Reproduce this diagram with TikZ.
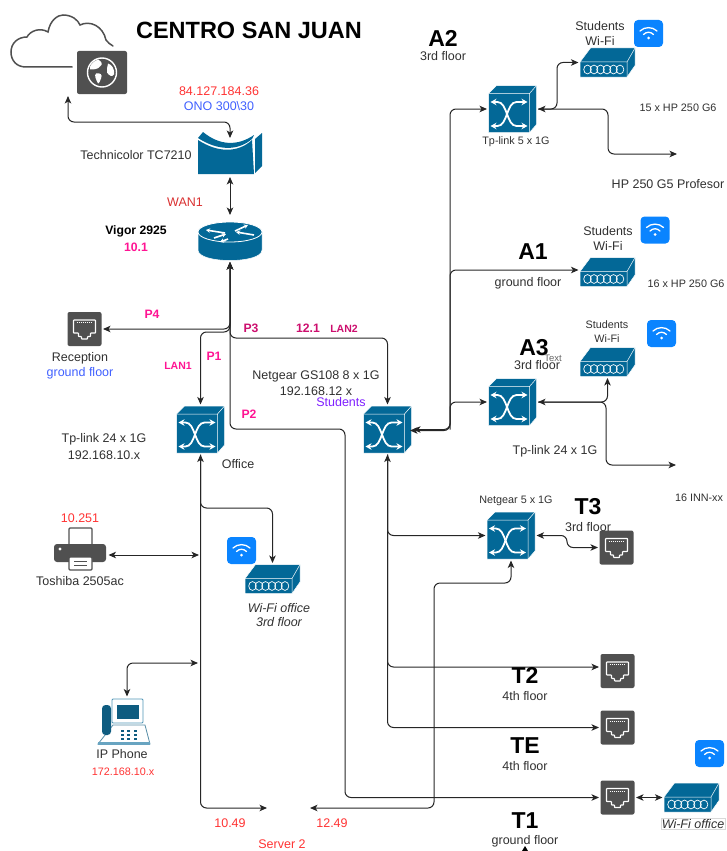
\documentclass[tikz,border=0pt]{standalone}
\usepackage{fontspec}
\setmainfont{Liberation Sans}
\usetikzlibrary{arrows.meta,calc,positioning}
\definecolor{devblue}{HTML}{036897}
\definecolor{devdark}{HTML}{0E5C80}
\definecolor{icongrey}{HTML}{505050}
\definecolor{wifiblue}{HTML}{0A84FF}
\definecolor{txtgrey}{HTML}{303030}
\definecolor{txtred}{HTML}{FF3333}
\definecolor{txtdred}{HTML}{D93030}
\definecolor{txtpink}{HTML}{FF1493}
\definecolor{txtrose}{HTML}{CC0F6E}
\definecolor{txtblue}{HTML}{4060FF}
\definecolor{txtviolet}{HTML}{7F20FF}
\tikzset{
lbl/.style={inner sep=0,outer sep=0,align=center,text=txtgrey,font=\fontsize{12.5}{14}\selectfont},
lblsm/.style={lbl,font=\fontsize{10.8}{12}\selectfont},
head/.style={lbl,text=black,font=\fontsize{23}{24}\selectfont\bfseries},
tag/.style={lbl,font=\fontsize{12.2}{14}\selectfont\bfseries},
link/.style={draw=black!85,line width=1pt,rounded corners=6pt,>={Stealth[length=7.5pt,width=6.5pt,inset=2pt]}},
dev/.style={inner sep=0,outer sep=1.5pt,minimum width=#1},
swbox/.style={dev=48pt,minimum height=47pt},
apbox/.style={dev=55pt,minimum height=29pt},
rjbox/.style={dev=34pt,minimum height=34pt},
swicon/.pic={
\path[fill=devblue,draw=white,line width=0.5pt,line join=round] (-24,-15.5) -- (-16,-23.5) -- (24,-23.5) -- (24,15.5) -- (17,23.5) -- (-24,23.5) -- cycle;
\draw[white,line width=0.5pt] (-24,-15.5) -- (17,-15.5) -- (24,-23.5) (17,-15.5) -- (17,23.5);
\draw[white,line width=1.8pt,<->,>={Stealth[length=6pt,width=6.5pt]}] (-22,-7) -- (-15,-7) .. controls (-5,-7) and (-6,17) .. (4,17) -- (15,17);
\draw[white,line width=1.8pt,<->,>={Stealth[length=6pt,width=6.5pt]}] (-22,17) -- (-15,17) .. controls (-5,17) and (-6,-7) .. (4,-7) -- (15,-7);
},
apicon/.pic={
\path[fill=devblue,draw=white,line width=0.5pt,line join=round] (-27.5,-0.5) -- (-17,-14.5) -- (27.5,-14.5) -- (27.5,3) -- (19.5,14.5) -- (-27.5,14.5) -- cycle;
\draw[white,line width=0.5pt] (-27.5,-0.5) -- (19.5,-0.5) -- (27.5,-14.5) (19.5,-0.5) -- (19.5,14.5);
\foreach \cx in {-20,-13.5,-7,-0.5,6,12.5} \draw[white,line width=0.7pt] (\cx,7) ellipse (3.8 and 4.4);
},
rjicon/.pic={
\path[fill=icongrey,rounded corners=2pt] (-17,-17) rectangle (17,17);
\draw[white,line width=1.2pt,line join=round,rounded corners=0.6pt] (-11,-9) -- (11,-9) -- (11,4) -- (6,4) -- (6,7.5) -- (3,7.5) -- (3,10) -- (-3,10) -- (-3,7.5) -- (-6,7.5) -- (-6,4) -- (-11,4) -- cycle;
\draw[white,line width=1pt,dash pattern=on 1pt off 1pt] (-8,-6.2) -- (8,-6.2);
},
wifiicon/.pic={
\path[fill=wifiblue,rounded corners=4pt] (-14.5,-13.5) rectangle (14.5,13.5);
\draw[white,line width=1.3pt,line cap=round] (-8.5,-2.5) .. controls (-4,-7) and (4,-7) .. (8.5,-2.5);
\draw[white,line width=1.3pt,line cap=round] (-5,1) .. controls (-2,-2) and (2,-2) .. (5,1);
\fill[white] (0,4.5) circle (1.5);
},
routericon/.pic={
\path[fill=devblue,draw=white,line width=0.5pt] (-32,-9) -- (-32,9) .. controls (-32,23) and (32,23) .. (32,9) -- (32,-9) -- cycle;
\path[fill=devblue,draw=white,line width=0.8pt] (0,-9) ellipse (32 and 10);
\draw[white,line width=1.6pt,->,>={Stealth[length=4pt,width=4.5pt]}] (-5,-8) -- (-24,-11);
\draw[white,line width=1.6pt,->,>={Stealth[length=4pt,width=4.5pt]}] (-16,-3) -- (-4,-7);
\draw[white,line width=1.6pt,->,>={Stealth[length=4pt,width=4.5pt]}] (5,-10) -- (18,-16);
\draw[white,line width=1.6pt,->,>={Stealth[length=4pt,width=4.5pt]}] (24,-6) -- (6,-9);
\draw[white,line width=1.6pt,->,>={Stealth[length=4pt,width=4.5pt]}] (-2,-2) -- (-10,1);
},
modemicon/.pic={
\path[fill=devblue] (-32,-13) .. controls (-12,0) and (8,0) .. (22,-13) -- (24,21) -- (-32,21) -- cycle;
\path[fill=devblue] (-27,-21) .. controls (-10,-7) and (8,-7) .. (24,-18) -- (22,-14) .. controls (8,-2) and (-12,-2) .. (-32,-15) -- cycle;
\path[fill=devblue] (25,-14) -- (32,-20) -- (32,13) -- (25,20) -- cycle;
},
printicon/.pic={
\draw[icongrey,fill=white,line width=1.3pt,rounded corners=1pt] (-11,-21) rectangle (12,-3);
\path[fill=icongrey,rounded corners=3pt] (-26,-5) rectangle (26,13);
\fill[white] (-20,0) circle (1.6);
\draw[icongrey,fill=white,line width=1.3pt,rounded corners=1pt] (-11,8) rectangle (12,21);
\draw[icongrey,line width=0.8pt] (-6,12.5) -- (7,12.5) (-6,16) -- (7,16);
},
phoneicon/.pic={
\draw[devdark!70,fill=white,line width=0.8pt] (-25,22) -- (27,22) -- (22,3) -- (-10,3) -- cycle;
\path[fill=devblue!60] (-25,20) -- (27,20) -- (27,23) -- (-25,23) -- cycle;
\path[fill=devdark,rounded corners=3.5pt] (-21,-17) rectangle (-12,13);
\draw[devblue!70,fill=white,line width=0.8pt,rounded corners=1pt] (-11,-23) rectangle (20,1);
\path[fill=devdark] (-6,-17) rectangle (16,-3);
\foreach \cx in {-1,5,12} \foreach \cy in {9,13,17} \fill[devdark] (\cx-1.5,\cy-1) rectangle (\cx+1.5,\cy+1);
},
netbox/.pic={
\path[fill=icongrey,rounded corners=2pt] (-25,-21.5) rectangle (25,21.5);
\draw[white,line width=1.4pt] (0,0) circle (14.5);
\path[fill=white] (-4,-13) .. controls (0,-11) and (1,-8) .. (-2,-6) .. controls (-4,-3) and (-9,-3) .. (-12,-3) .. controls (-13,-7) and (-9,-11) .. (-4,-13) -- cycle;
\path[fill=white] (-6,1) .. controls (-2,0) and (1,2) .. (-1,6) .. controls (-2,9) and (-3,11) .. (-4,11) .. controls (-6,7) and (-8,3) .. (-6,1) -- cycle;
\path[fill=white] (6,-9) .. controls (10,-8) and (13,-3) .. (12,2) .. controls (10,5) and (7,3) .. (5,0) .. controls (5,-3) and (5,-6) .. (6,-9) -- cycle;
},
}
\begin{document}
\begin{tikzpicture}[x=1pt,y=-1pt]
\useasboundingbox (0,0) rectangle (726,851);
%cloud
\draw[icongrey,line width=1.5pt,line cap=round] (72,67) -- (26,67) .. controls (16,67) and (11,60) .. (11,52) .. controls (11,43) and (18,37) .. (27,37) .. controls (30,31) and (40,27) .. (48,32) .. controls (50,20) and (58,15) .. (63,15) .. controls (72,15) and (78,20) .. (80,25) .. controls (90,20) and (103,26) .. (106,40) .. controls (108,43) and (110,44) .. (113,46);
\pic at (102,72.5) {netbox};
\node[dev=50pt,minimum height=43pt] (netOut) at (102,72.5) {};
%devices
\pic at (230,153) {modemicon};
\node[dev=64pt,minimum height=36pt] (modemTC) at (230,157.5) {};
\pic at (230,241) {routericon};
\node[dev=64pt,minimum height=44pt] (routerV) at (230,238.5) {};
\pic at (200.5,429.5) {swicon};
\node[swbox] (swOffice) at (200.5,429.5) {};
\pic at (387.5,429.5) {swicon};
\node[swbox] (swStudents) at (387.5,429.5) {};
\pic at (512.5,109) {swicon};
\node[swbox] (swAtwo) at (512.5,109) {};
\pic at (512.5,402) {swicon};
\node[swbox] (swAthree) at (512.5,402) {};
\pic at (511,535.5) {swicon};
\node[swbox] (swNet) at (511,535.5) {};
\pic at (607.5,62.5) {apicon};
\node[apbox] (apAtwo) at (607.5,62.5) {};
\pic at (607.5,272) {apicon};
\node[apbox] (apAone) at (607.5,272) {};
\pic at (607.5,362) {apicon};
\node[apbox] (apAthree) at (607.5,362) {};
\pic at (272.5,579) {apicon};
\node[apbox] (apOffice) at (272.5,579) {};
\pic at (691.5,797.5) {apicon};
\node[apbox] (apTone) at (691.5,797.5) {};
\pic at (84.5,329) {rjicon};
\node[rjbox] (rjRecep) at (84.5,329) {};
\pic at (616.5,547.5) {rjicon};
\node[rjbox] (rjTthree) at (616.5,547.5) {};
\pic at (617.5,671) {rjicon};
\node[rjbox] (rjTtwo) at (617.5,671) {};
\pic at (617.5,727.5) {rjicon};
\node[rjbox] (rjTE) at (617.5,727.5) {};
\pic at (617.5,797.5) {rjicon};
\node[rjbox] (rjTone) at (617.5,797.5) {};
\pic at (648.5,33.5) {wifiicon};
\pic at (655,230) {wifiicon};
\pic at (661.5,333.5) {wifiicon};
\pic at (241.5,550.5) {wifiicon};
\pic at (709.5,753.5) {wifiicon};
\pic at (80,549) {printicon};
\node[dev=54pt,minimum height=30pt] (printTS) at (80,555) {};
\pic at (123,722) {phoneicon};
\node[dev=50pt,minimum height=48pt] (phoneIP) at (127,722) {};
%free ends and bends
\coordinate (cCloud) at (68,96);
\coordinate (kCloud) at (68,122);
\coordinate (jnRouter) at (230,332);
\coordinate (kPthree) at (230,338);
\coordinate (kPtwoA) at (230,429);
\coordinate (kPtwoB) at (345,797.5);
\coordinate (jnOffice) at (200.5,508);
\coordinate (cPrint) at (199,555);
\coordinate (cPhone) at (198,663);
\coordinate (cSrvA) at (267,808);
\coordinate (cSrvB) at (310,808);
\coordinate (kNet) at (434,583);
\coordinate (jnTrunk) at (450,429.5);
\coordinate (kWifiA) at (557,109);
\coordinate (kProf) at (608,109);
\coordinate (cProf) at (677,154);
\coordinate (kInn) at (606,402);
\coordinate (cInn) at (676,465);
\coordinate (kTthree) at (567,535.5);
%links
\draw[link,<->] (cCloud) -- (kCloud) -| (modemTC.north);
\draw[link,<->] (modemTC.south) -- (routerV.north);
\draw[link,<->] (routerV.south) |- (rjRecep.east);
\draw[link,<->] (routerV.south) -- (jnRouter) -| (swOffice.north);
\draw[link,<->] (routerV.south) -- (kPthree) -| (swStudents.north);
\draw[link,<->] (routerV.south) -- (kPtwoA) -| (kPtwoB) -- (rjTone.west);
\draw[link,<->] (swOffice.south) |- (cSrvA);
\draw[link,->] (swOffice.south) -- (jnOffice) -| (apOffice.north);
\draw[link,<->] (printTS.east) -- (cPrint);
\draw[link,<->] (phoneIP.north) |- (cPhone);
\draw[link,<->] (cSrvB) -| (kNet) -| (swNet.south);
\draw[link,<->] (swStudents.south) |- (swNet.west);
\draw[link,->] (swStudents.south) |- ($(rjTtwo.west)+(0,-4)$);
\draw[link,->] (swStudents.south) |- (rjTE.west);
\draw[link,<->] (swNet.east) -- (kTthree) |- (rjTthree.west);
\draw[link,<->] (swStudents.east) -- (jnTrunk) |- (swAtwo.west);
\draw[link,<->] ($(swStudents.east)+(-3,1)$) -- ($(jnTrunk)+(0,1)$) |- (swAthree.west);
\draw[link,->] (jnTrunk) |- ($(apAone.west)+(0,-2)$);
\draw[link,<->] (swAtwo.east) -- (kWifiA) |- (apAtwo.west);
\draw[link,->] (swAtwo.east) -- (kProf) |- (cProf);
\draw[link,<->] (swAthree.east) -| (apAthree.south);
\draw[link,->] (swAthree.east) -- (kInn) |- (cInn);
\draw[link,<->] (rjTone.east) -- (apTone.west);
\fill[black] (522,851) -- (525,846) -- (528,851) -- cycle;
%labels left
\node[lbl,text=black,font=\fontsize{23.5}{24}\selectfont\bfseries] (txtTitle) at (249,30) {CENTRO SAN JUAN};
\node[lbl,text=txtred] (txtIsp) at (219,91) {84.127.184.36};
\node[lbl,text=txtblue] (txtOno) at (219,106) {ONO 300\textbackslash 30};
\node[lbl] (txtModem) at (136,155) {Technicolor TC7210};
\node[lbl,text=txtdred] (txtWan) at (185,202) {WAN1};
\node[tag,text=black] (txtVigor) at (136,231) {Vigor 2925};
\node[tag,text=txtpink] (txtVigorIp) at (136,247) {10.1};
\node[tag,text=txtpink] (txtPfour) at (152,314) {P4};
\node[tag,text=txtrose] (txtPthree) at (251,328) {P3};
\node[tag,text=txtrose] (txtTwelve) at (308,328) {12.1};
\node[lblsm,text=txtrose,font=\fontsize{10.5}{12}\selectfont\bfseries] (txtLantwo) at (344,329) {LAN2};
\node[tag,text=txtpink] (txtPone) at (214,356) {P1};
\node[lblsm,text=txtpink,font=\fontsize{10.5}{12}\selectfont\bfseries] (txtLanone) at (178,366) {LAN1};
\node[tag,text=txtpink] (txtPtwo) at (249,414) {P2};
\node[lbl] (txtRecep) at (80,358) {Reception};
\node[lbl,text=txtblue] (txtRecepF) at (80,373) {ground floor};
\node[lbl] (txtGs) at (316,376) {Netgear GS108 8 x 1G};
\node[lbl] (txtGsIp) at (316,391) {192.168.12 x};
\node[lbl,text=txtviolet] (txtStud) at (341,402) {Students};
\node[lbl] (txtTpOffice) at (104,439) {Tp-link 24 x 1G};
\node[lbl] (txtTpIp) at (104,455) {192.168.10.x};
\node[lbl] (txtOffice) at (238,464) {Office};
\node[lbl,text=txtred] (txtPrintIp) at (80,518) {10.251};
\node[lbl] (txtPrint) at (80,581) {Toshiba 2505ac};
\node[lbl,font=\fontsize{12.5}{14}\selectfont\itshape] (txtWifiOff) at (279,615) {Wi-Fi office\\3rd floor};
\node[lbl] (txtPhone) at (122,754) {IP Phone};
\node[lblsm,text=txtred] (txtPhoneIp) at (123,772) {172.168.10.x};
\node[lbl,text=txtred] (txtTen) at (230,823) {10.49};
\node[lbl,text=txtred] (txtTwel) at (332,823) {12.49};
\node[lbl,text=txtred] (txtSrv) at (282,844) {Server 2};
%labels right
\node[head] (txtAtwo) at (443,38) {A2};
\node[lbl] (txtAtwoF) at (443,56) {3rd floor};
\node[lbl,font=\fontsize{12.5}{15}\selectfont] (txtWifiA) at (600,33.5) {Students\\Wi-Fi};
\node[lblsm] (txtTpFive) at (516,142) {Tp-link 5 x 1G};
\node[lblsm] (txtHpSix) at (678,108) {15 x HP 250 G6};
\node[lbl] (txtHpFive) at (668,184) {HP 250 G5 Profesor};
\node[head] (txtAone) at (533,252) {A1};
\node[lbl] (txtAoneF) at (528,283) {ground floor};
\node[lbl,font=\fontsize{12.5}{15}\selectfont] (txtWifiB) at (608,238.5) {Students\\Wi-Fi};
\node[lblsm] (txtHpSixB) at (686,284) {16 x HP 250 G6};
\node[head] (txtAthree) at (534,348) {A3};
\node[lblsm,text=black!60,font=\fontsize{9.5}{11}\selectfont] (txtText) at (553,358) {Text};
\node[lbl] (txtAthreeF) at (537,365) {3rd floor};
\node[lblsm,font=\fontsize{10.8}{14}\selectfont] (txtWifiC) at (607,332) {Students\\Wi-Fi};
\node[lbl] (txtTpA) at (555,451) {Tp-link 24 x 1G};
\node[lblsm] (txtNetFive) at (516,501) {Netgear 5 x 1G};
\node[head] (txtTthree) at (588,507) {T3};
\node[lbl] (txtTthreeF) at (588,527) {3rd floor};
\node[lblsm] (txtInn) at (699,498) {16 INN-xx};
\node[head] (txtTtwo) at (525,675) {T2};
\node[lbl] (txtTtwoF) at (525,696) {4th floor};
\node[head] (txtTE) at (525,746) {TE};
\node[lbl] (txtTEF) at (525,766) {4th floor};
\node[head] (txtTone) at (525,821) {T1};
\node[lbl] (txtToneF) at (525,841) {ground floor};
\node[lbl,draw=black!15,line width=0.5pt,inner sep=1pt,font=\fontsize{12.5}{14}\selectfont\itshape] (txtWifiT) at (693,824) {Wi-Fi office};
\end{tikzpicture}
\end{document}
